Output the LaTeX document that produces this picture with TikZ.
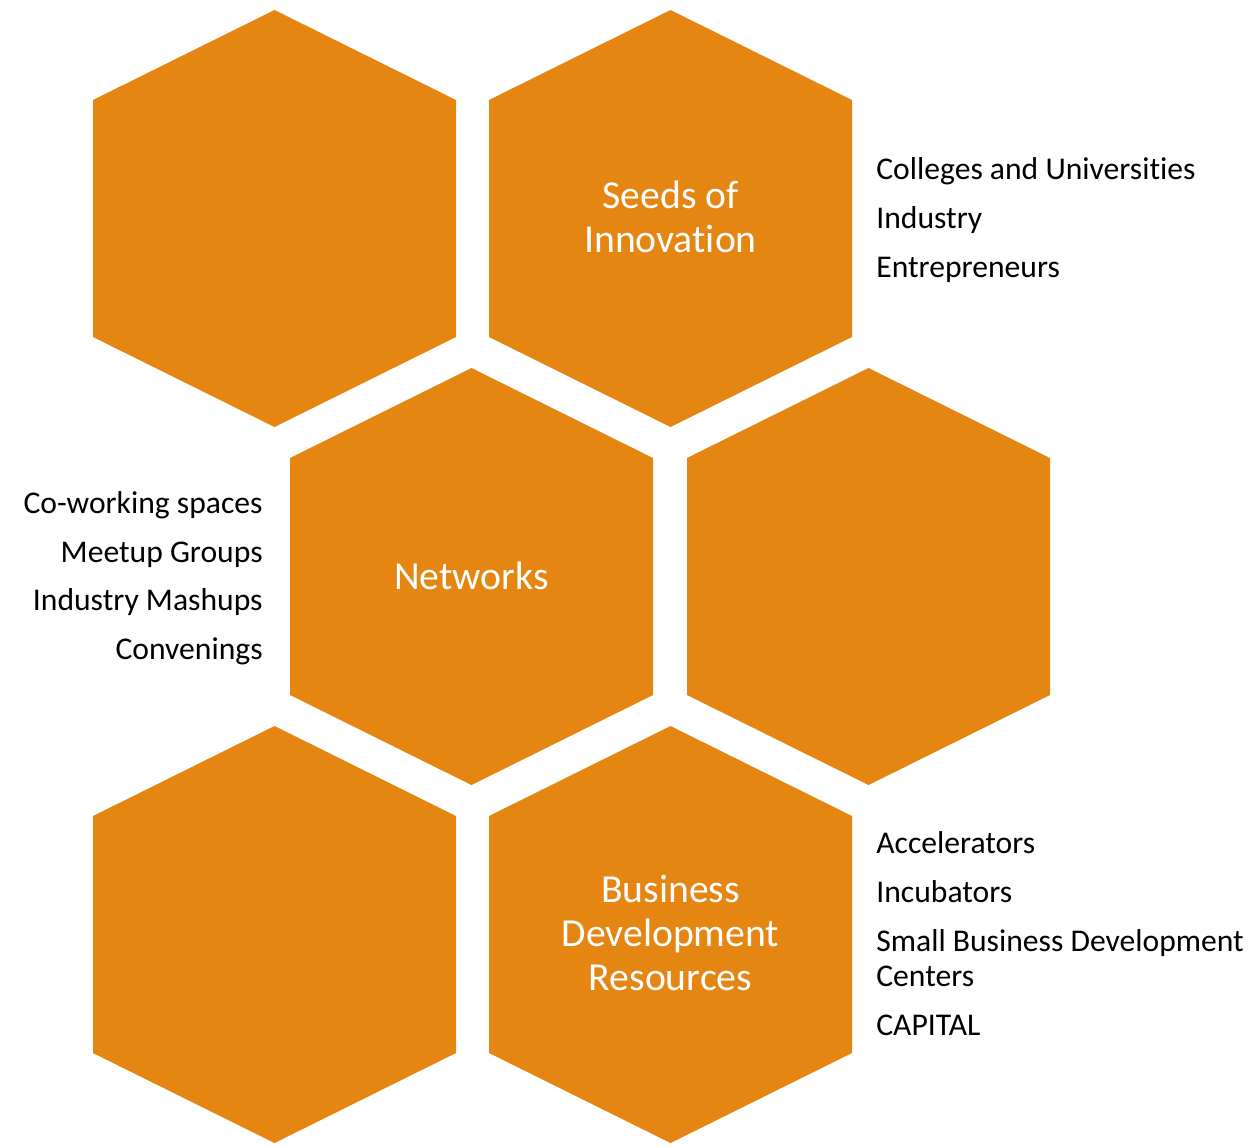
\documentclass[tikz,border=0pt]{standalone}
\usepackage{fontspec}
\setmainfont{Carlito}[Ligatures=NoCommon]
\usetikzlibrary{positioning}
\definecolor{hexorange}{HTML}{E58512}
% one honeycomb cell, centred at (#1,#2) in pixel units
\def\honeycell(#1,#2){\fill[hexcell] ({#1-181.5},{#2-118.5}) -- (#1,{#2-208.5}) -- ({#1+181.5},{#2-118.5}) -- ({#1+181.5},{#2+118.5}) -- (#1,{#2+208.5}) -- ({#1-181.5},{#2+118.5}) -- cycle;}

\begin{document}
\begin{tikzpicture}[x=0.02cm, y=-0.02cm,
    hexcell/.style={fill=hexorange},
    hexlabel/.style={text=white, align=center, inner sep=0pt, font=\fontsize{22.6}{25}\selectfont},
    listitem/.style={inner sep=0pt, font=\fontsize{18}{20}\selectfont}]
  \useasboundingbox (0,0) rectangle (1256,1146);

  %%%%% cells %%%%%
  \honeycell(274.5,218.5)
  \honeycell(670.5,218.5)
  \honeycell(471.5,576.5)
  \honeycell(868.5,576.5)
  \honeycell(274.5,934.5)
  \honeycell(670.5,934.5)

  %%%%% cell labels %%%%%
  \node[hexlabel] (seeds) at (670.5,217) {Seeds of\\Innovation};
  \node[hexlabel] (networks) at (471.5,576) {Networks};
  \node[hexlabel] (business) at (670.5,933) {Business\\Development\\Resources};

  %%%%% lists %%%%%
  \node[listitem, anchor=base west] (colleges) at (876,179) {Colleges and Universities};
  \node[listitem, anchor=base west] (industry) at (876,228) {Industry};
  \node[listitem, anchor=base west] (entrepreneurs) at (876,277) {Entrepreneurs};

  \node[listitem, anchor=base east] (coworking) at (263,513) {Co-working spaces};
  \node[listitem, anchor=base east] (meetup) at (263,562) {Meetup Groups};
  \node[listitem, anchor=base east] (mashups) at (263,610) {Industry Mashups};
  \node[listitem, anchor=base east] (convenings) at (263,659) {Convenings};

  \node[listitem, anchor=base west] (accelerators) at (876,853) {Accelerators};
  \node[listitem, anchor=base west] (incubators) at (876,902) {Incubators};
  \node[listitem, anchor=base west] (sbdc) at (876,951) {Small Business Development};
  \node[listitem, anchor=base west] (centers) at (876,986) {Centers};
  \node[listitem, anchor=base west] (capital) at (876,1035) {CAPITAL};
\end{tikzpicture}
\end{document}
